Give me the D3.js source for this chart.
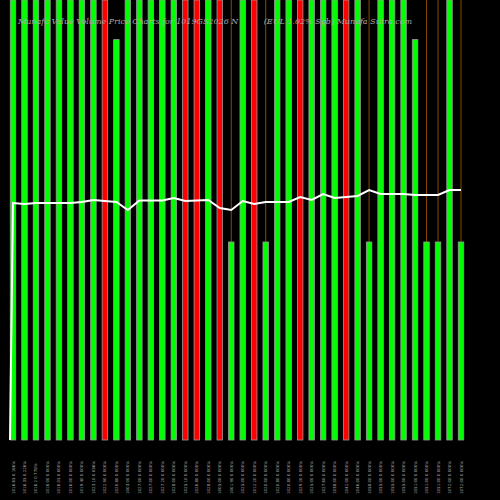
<!DOCTYPE html>
<html><head><meta charset="utf-8">
<script src="https://cdn.jsdelivr.net/npm/d3@7"></script>
<style>body{margin:0;background:#000}</style></head>
<body><svg id="c" width="500" height="500"></svg>
<script>
const prices=[1016.5,1012.2,1016.5,1016.5,1016.5,1016.5,1020.8,1029.4,1025,1020.8,986.5,1027.2,1027.2,1027.2,1038,1025,1027.2,1029.4,995,986.5,1025,1012.2,1020.8,1020.8,1020.8,1042,1029.4,1055,1038,1042,1046.5,1072,1055,1055,1055,1051,1051,1051,1072,1072];
const colors=["g","g","g","g","g","g","g","g","r","g","g","g","g","g","g","r","r","g","r","g","g","r","g","g","g","r","g","g","g","r","g","g","g","g","g","g","g","g","g","g"];
const volumes=[100,100,100,100,100,100,100,100,100,91,100,100,100,100,100,100,100,100,100,45,100,100,45,100,100,100,100,100,100,100,100,45,100,100,100,91,45,45,100,45];
const wicks=[19,22,31,36,37,39];
const labels=["1016.65 0.166%","1016.35 0.226%","1016.2 0.778%","1016.00 0.000%","1016.05 0.000%","1016.00 0.000%","1019.40 0.000%","1023.10 0.056%","1022.90 0.000%","1020.80 0.000%","1003.00 0.000%","1027.00 0.000%","1027.00 0.000%","1027.20 0.000%","1028.00 0.000%","1025.10 0.000%","1026.80 0.000%","1028.00 0.000%","1005.00 0.000%","1001.90 0.000%","1025.00 0.000%","1012.20 0.000%","1020.00 0.000%","1020.80 0.000%","1020.80 0.000%","1029.20 0.000%","1025.00 0.000%","1027.60 0.000%","1038.00 0.000%","1042.00 0.000%","1046.00 0.000%","1058.00 0.000%","1055.00 0.000%","1055.00 0.000%","1055.00 0.000%","1051.00 0.000%","1051.00 0.000%","1051.00 0.000%","1072.00 0.000%","1072.00 0.000%"];
const title="Munafa Value Volume Price Charts for 1019GS2026 N          (EUL 1.02% Sgb) Munafa Sutra.com";

const svg=d3.select("#c");
const x=d3.scaleLinear().domain([0,prices.length-1]).range([13,461]);
const yv=d3.scaleLinear().domain([0,100]).range([440,0]);
const yp=d3.scaleLinear().domain([0,1887]).range([440,0]);
svg.append("rect").attr("width",500).attr("height",500).attr("fill","#000");
svg.selectAll(".w").data(wicks).enter().append("line")
 .attr("x1",d=>x(d)).attr("x2",d=>x(d)).attr("y1",0).attr("y2",d=>yv(volumes[d]))
 .attr("stroke","#8a4a00").attr("stroke-width",1);
svg.selectAll(".b").data(volumes).enter().append("rect")
 .attr("x",(d,i)=>x(i)-2.75).attr("width",5.5).attr("y",d=>yv(d)).attr("height",d=>440-yv(d))
 .attr("fill",(d,i)=>colors[i]==="g"?"#00ff00":"#ff0000").attr("stroke","#999").attr("stroke-width",0.8);
const pts=[[x(0)-3,yp(0)]].concat(prices.map((p,i)=>[x(i),yp(p)]));
svg.append("path").attr("d",d3.line()(pts)).attr("fill","none").attr("stroke","#fff").attr("stroke-width",2);
svg.append("text").attr("x",18).attr("y",24).attr("fill","#aaa").attr("font-family","DejaVu Serif").attr("font-style","italic").attr("font-size",8).attr("xml:space","preserve").text(title);
svg.selectAll(".l").data(labels).enter().append("text")
 .attr("transform",(d,i)=>`translate(${x(i)+1.5},494) rotate(-90)`)
 .attr("fill","#aaa").attr("font-family","DejaVu Sans").attr("font-size",4).text(d=>d);
</script></body></html>
